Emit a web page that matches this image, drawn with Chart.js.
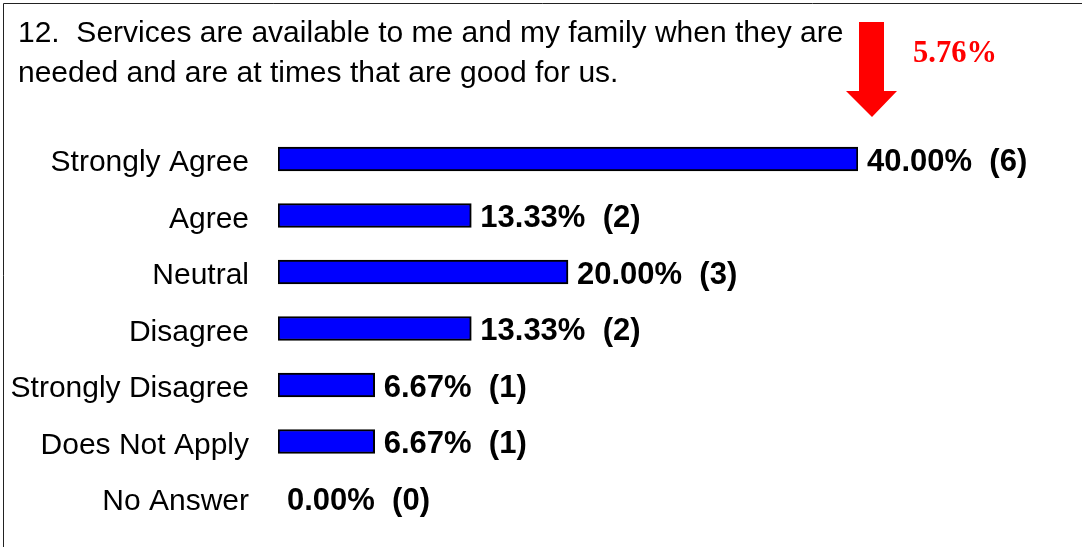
<!DOCTYPE html>
<html>
<head>
<meta charset="utf-8">
<title>Q12 - Services available</title>
<script src="https://cdn.jsdelivr.net/npm/chart.js@4/dist/chart.umd.min.js"></script>
<style>
  html, body { margin: 0; padding: 0; background: #fff; }
  #wrap { position: relative; width: 1082px; height: 547px; }
</style>
</head>
<body>
<div id="wrap"><canvas id="chart"></canvas></div>
<script>
/* survey item 12 — response breakdown */
const titleLines = [
  "12.  Services are available to me and my family when they are",
  "needed and are at times that are good for us.",
];
const categories = ["Strongly Agree", "Agree", "Neutral", "Disagree", "Strongly Disagree", "Does Not Apply", "No Answer"];
const percents = [40.00, 13.33, 20.00, 13.33, 6.67, 6.67, 0.00];
const counts = [6, 2, 3, 2, 1, 1, 0];
const changeLabel = "5.76%";

const SANS = '"Liberation Sans", Arial, sans-serif';
const SERIF = '"Liberation Serif", "Times New Roman", serif';

/* frame, heading, red change arrow and all bar/category text */
const decorations = {
  id: "decorations",
  afterDraw(chart) {
    const { ctx } = chart;
    const x = chart.scales.x, y = chart.scales.y;
    ctx.save();

    // left + top frame
    ctx.strokeStyle = "#222";
    ctx.lineWidth = 1;
    ctx.beginPath();
    ctx.moveTo(3.5, 547);
    ctx.lineTo(3.5, 3.5);
    ctx.lineTo(1082, 3.5);
    ctx.stroke();

    // heading
    ctx.fillStyle = "#000";
    ctx.font = `30px ${SANS}`;
    ctx.textAlign = "left";
    ctx.textBaseline = "alphabetic";
    titleLines.forEach((t, i) => ctx.fillText(t, 18, 42 + i * 40));

    // down arrow
    ctx.fillStyle = "#ff0000";
    ctx.beginPath();
    ctx.moveTo(859, 22);
    ctx.lineTo(884, 22);
    ctx.lineTo(884, 91);
    ctx.lineTo(897, 91);
    ctx.lineTo(872, 117);
    ctx.lineTo(846, 91);
    ctx.lineTo(859, 91);
    ctx.closePath();
    ctx.fill();
    ctx.font = `bold 30.5px ${SERIF}`;
    ctx.fillText(changeLabel, 913, 62);

    // category names, right aligned against the bars
    ctx.fillStyle = "#000";
    ctx.font = `30px ${SANS}`;
    ctx.textAlign = "right";
    categories.forEach((c, i) => {
      ctx.fillText(c, 249, y.getPixelForValue(i) + 12);
    });

    // value labels at the end of each bar
    ctx.font = `bold 31px ${SANS}`;
    ctx.textAlign = "left";
    percents.forEach((p, i) => {
      const px = x.getPixelForValue(p);
      ctx.fillText(`${p.toFixed(2)}%  (${counts[i]})`, px + 9, y.getPixelForValue(i) + 11.5);
    });

    ctx.restore();
  },
};

new Chart(document.getElementById("chart"), {
  type: "bar",
  data: {
    labels: categories,
    datasets: [{
      data: percents,
      backgroundColor: percents.map((p) => (p > 0 ? "#0000ff" : "transparent")),
      borderColor: "#000",
      borderWidth: percents.map((p) => (p > 0 ? 2 : 0)),
      borderSkipped: false,
      barThickness: 24,
    }],
  },
  options: {
    indexAxis: "y",
    responsive: true,
    maintainAspectRatio: false,
    animation: false,
    layout: { padding: { left: 278, right: 224, top: 130.75, bottom: 20.75 } },
    scales: {
      x: { display: false, min: 0, max: 40 },
      y: { display: false, offset: true },
    },
    plugins: {
      legend: { display: false },
      tooltip: { enabled: false },
    },
  },
  plugins: [decorations],
});
</script>
</body>
</html>
